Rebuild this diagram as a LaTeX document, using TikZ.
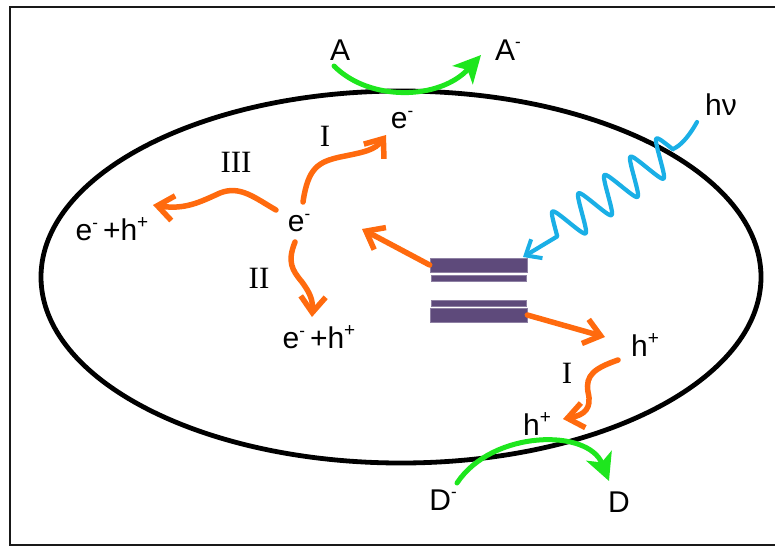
\documentclass[tikz,border=0pt]{standalone}
\usepackage{fontspec}
\setmainfont{Liberation Sans}
\newfontfamily\rmnum{Liberation Serif}
\usetikzlibrary{arrows.meta}
\definecolor{orng}{HTML}{FF6A0E}
\definecolor{grn}{HTML}{1EE61E}
\definecolor{blu}{HTML}{1AAFE6}
\definecolor{purp}{HTML}{5E4A7B}
\newcommand{\supm}{\raisebox{0.42em}{\fontsize{17}{17}\selectfont -}}
\newcommand{\supp}{\raisebox{0.42em}{\fontsize{19}{19}\selectfont +}}
\begin{document}
\begin{tikzpicture}[x=1pt,y=-1pt,
  lab/.style={font=\fontsize{30}{32}\selectfont, inner sep=0pt},
  num/.style={font=\rmnum\fontsize{31}{33}\selectfont, inner sep=0pt},
  oarr/.style={draw=orng, line width=5.5pt, line cap=round,
    -{Straight Barb[length=16pt,width=25pt,line width=5.5pt]}},
  garr/.style={draw=grn, line width=5pt, line cap=round,
    -{Stealth[length=27pt,width=27pt,inset=7pt]}},
  barthick/.style={fill=purp, draw=purp!70!white, line width=0.6pt, minimum width=97pt, minimum height=14pt, inner sep=0pt},
  barthin/.style={fill=purp, draw=purp!70!white, line width=0.6pt, minimum width=95pt, minimum height=6pt, inner sep=0pt}]
\useasboundingbox (0,0) rectangle (775,547);
\draw[line width=2.8pt, black!90] (775,7) -- (10,7) -- (10,545) -- (775,545);
% cell
\draw[line width=4.8pt] (401,277) ellipse [x radius=360, y radius=186];
% bars
\node[barthick] (b1) at (478.5,265) {};
\node[barthin] (b2) at (478.5,278) {};
\node[barthin] (b3) at (478.5,303) {};
\node[barthick] (b4) at (478.5,315) {};
% labels
\node[lab] (A) at (340,50) {A};
\node[lab] (Am) at (508,50) {A\supm};
\node[lab] (hv) at (721,105) {hν};
\node[lab] (etop) at (402,120) {e\supm};
\node[lab] (ec) at (299,223) {e\supm};
\node[lab] (eleft) at (112,229) {e\supm\,+h\supp};
\node[lab] (ebot) at (319,337) {e\supm\,+h\supp};
\node[lab] (hr) at (645,345) {h\supp};
\node[lab] (hb) at (537,424) {h\supp};
\node[lab] (Dm) at (443,500) {D\supm};
\node[lab] (D) at (619,502) {D};
\node[num] (n1) at (325,136) {I};
\node[num] (n3) at (236,162) {III};
\node[num] (n2) at (259,278) {II};
\node[num] (n4) at (567,373) {I};
% coordinates for connectors
\coordinate (a0) at (334,66);
\coordinate (a1) at (481,55);
\coordinate (d0) at (457,483);
\coordinate (d1) at (609,481);
\coordinate (w0) at (697,122);
\coordinate (w1) at (673,149);
\coordinate (w3) at (523,257);
% green arrows
\draw[garr] (a0) .. controls (370,102) and (440,100) .. (a1);
\draw[garr] (d0) .. controls (492,430) and (588,428) .. (d1);
% photon
\draw[draw=blu, line width=4.2pt, line cap=round, line join=round,
  -{Straight Barb[length=13pt,width=22pt,line width=4pt]}]
  (w0) .. controls (688,138) and (680,146) .. (w1)
  -- plot[domain=-0.25:4.3, samples=200, variable=\t]
     ({666.5-26*\t-10*asin(0.85*cos(360*\t))/58.21},{154+18.25*\t-15.5*asin(0.85*cos(360*\t))/58.21})
  -- (w3);
% orange arrows from bars
\draw[oarr] (b1.west) -- (362,229);
\draw[oarr] (b4.east) -- (605,337);
% electron paths
\draw[oarr] (303,202) .. controls (308,168) and (318,162) .. (340,157)
  .. controls (365,152) and (375,150) .. (386,135);
\draw[oarr] (276,210) .. controls (255,198) and (240,185) .. (220,193)
  .. controls (200,202) and (185,210) .. (153,205);
\draw[oarr] (295,242) .. controls (287,262) and (292,270) .. (302,282)
  .. controls (310,293) and (313,300) .. (312,317);
\draw[oarr] (618,360) .. controls (595,368) and (585,375) .. (588,392)
  .. controls (592,408) and (585,415) .. (563,419);
\end{tikzpicture}
\end{document}
